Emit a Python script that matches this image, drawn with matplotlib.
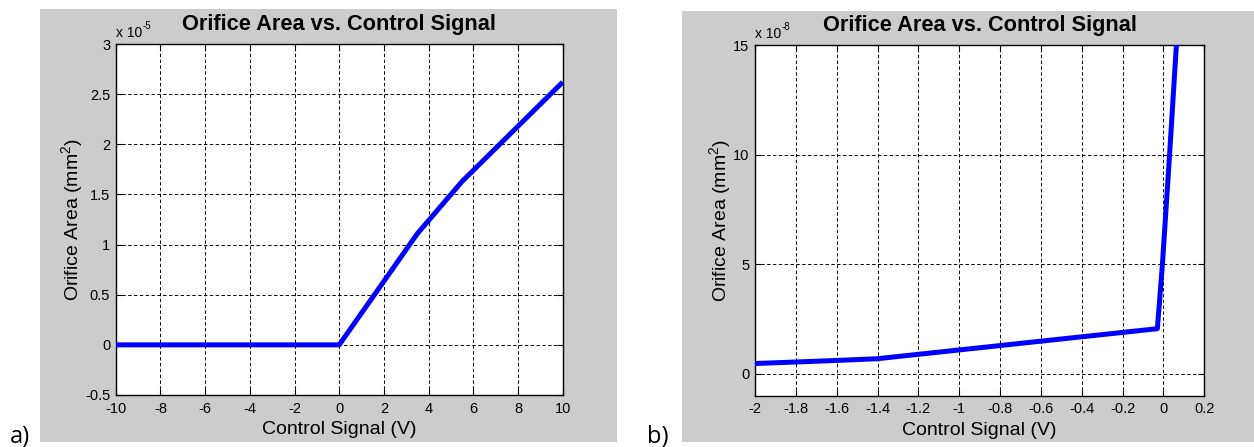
import matplotlib
matplotlib.use("Agg")
import matplotlib.pyplot as plt
from matplotlib.patches import Rectangle

plt.rcParams['font.family'] = ['Liberation Sans', 'DejaVu Sans']
plt.rcParams['mathtext.fontset'] = 'custom'
plt.rcParams['mathtext.rm'] = 'Liberation Sans'
plt.rcParams['mathtext.it'] = 'Liberation Sans:italic'
plt.rcParams['mathtext.bf'] = 'Liberation Sans:bold'
plt.rcParams['axes.unicode_minus'] = False

# ---- data (panel a: area in units of 1e-5 mm^2) ----
signal_a = [-10, 0, 3.5, 5.5, 10]
area_a = [0, 0, 1.11, 1.63, 2.62]
xticks_a = [-10, -8, -6, -4, -2, 0, 2, 4, 6, 8, 10]
xticklabels_a = ['-10', '-8', '-6', '-4', '-2', '0', '2', '4', '6', '8', '10']
yticks_a = [-0.5, 0, 0.5, 1, 1.5, 2, 2.5, 3]
yticklabels_a = ['-0.5', '0', '0.5', '1', '1.5', '2', '2.5', '3']

# ---- data (panel b: area in units of 1e-8 mm^2) ----
signal_b = [-2.0, -1.6, -1.4, -1.0, -0.6, -0.2, -0.03, -0.02, -0.005, 0.03, 0.07]
area_b = [0.46, 0.60, 0.68, 1.08, 1.48, 1.88, 2.05, 3.2, 5.0, 10.0, 16.0]
xticks_b = [-2, -1.8, -1.6, -1.4, -1.2, -1, -0.8, -0.6, -0.4, -0.2, 0, 0.2]
xticklabels_b = ['-2', '-1.8', '-1.6', '-1.4', '-1.2', '-1', '-0.8', '-0.6', '-0.4', '-0.2', '0', '0.2']
yticks_b = [0, 5, 10, 15]
yticklabels_b = ['0', '5', '10', '15']

title = 'Orifice Area vs. Control Signal'
xlabel = 'Control Signal (V)'
ylabel = r'Orifice Area (mm$^{2}$)'

W, H = 1254, 447
fig = plt.figure(figsize=(W / 100, H / 100), dpi=100)
fig.patch.set_facecolor('white')

def px_rect(x0, y0, x1, y1):
    return [x0 / W, 1 - y1 / H, (x1 - x0) / W, (y1 - y0) / H]

gray = '#cccccc'
for (x0, y0, x1, y1) in [(40, 9, 617, 442), (682, 11, 1254, 442)]:
    r = px_rect(x0, y0, x1, y1)
    fig.patches.append(Rectangle((r[0], r[1]), r[2], r[3], transform=fig.transFigure,
                                 facecolor=gray, edgecolor='none', zorder=-10))

ax1 = fig.add_axes(px_rect(115.7, 44, 562.7, 395))
ax2 = fig.add_axes(px_rect(755, 45, 1204.3, 395.5))

def style(ax, exponent):
    ax.set_facecolor('white')
    ax.grid(True, color='black', linestyle=(0, (3.5, 2.5)), linewidth=0.7)
    ax.tick_params(direction='in', length=4, width=0.8, top=True, right=True,
                   labelsize=10.5, colors='black', pad=4)
    ax.tick_params(axis='x', pad=5)
    for s in ax.spines.values():
        s.set_linewidth(1.0)
        s.set_color('black')
    ax.set_title(title, fontsize=15.7, fontweight='bold', pad=10)
    ax.set_xlabel(xlabel, fontsize=14, labelpad=4)
    ax.set_ylabel(ylabel, fontsize=14, labelpad=0)
    ax.set_axisbelow(True)
    ax.text(0, 1.012, 'x 10', transform=ax.transAxes, fontsize=10,
            ha='left', va='bottom')
    ax.annotate(exponent, xy=(0, 1.012), xycoords='axes fraction',
                xytext=(19.3, 6), textcoords='offset points', fontsize=7,
                ha='left', va='bottom')

ax1.plot(signal_a, area_a, color='#0000ff', linewidth=3.6, solid_capstyle='butt', zorder=3)
ax1.set_xlim(-10, 10)
ax1.set_ylim(-0.5, 3)
ax1.set_xticks(xticks_a)
ax1.set_xticklabels(xticklabels_a)
ax1.set_yticks(yticks_a)
ax1.set_yticklabels(yticklabels_a)
style(ax1, '-5')

ax2.plot(signal_b, area_b, color='#0000ff', linewidth=3.6, solid_capstyle='butt', zorder=3)
ax2.set_xlim(-2, 0.2)
ax2.set_ylim(-1, 15)
ax2.set_xticks(xticks_b)
ax2.set_xticklabels(xticklabels_b)
ax2.set_yticks(yticks_b)
ax2.set_yticklabels(yticklabels_b)
style(ax2, '-8')

fig.text(10 / W, 1 - 443 / H, 'a)', fontsize=17, family=['Open Sans', 'DejaVu Sans'],
         ha='left', va='baseline')
fig.text(647 / W, 1 - 443 / H, 'b)', fontsize=17, family=['Open Sans', 'DejaVu Sans'],
         ha='left', va='baseline')

fig.savefig('out.png', dpi=100, facecolor='white')
